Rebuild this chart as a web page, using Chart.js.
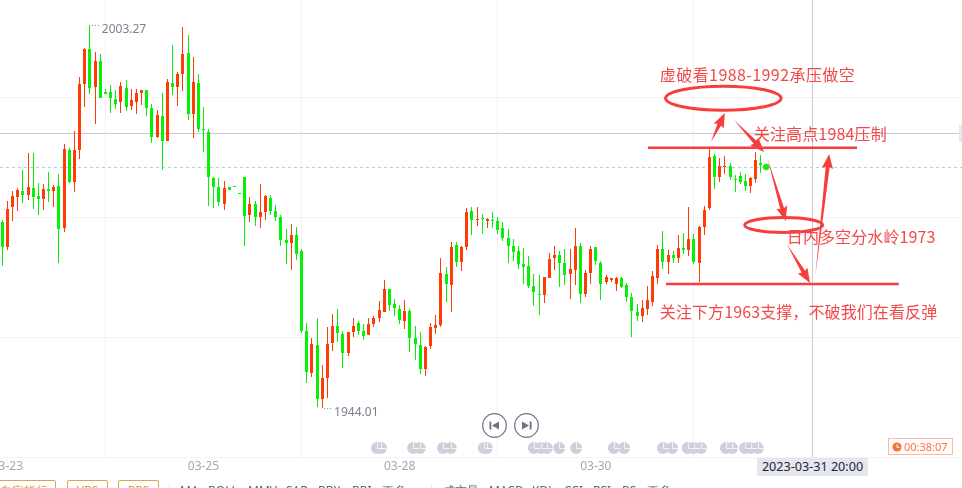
<!DOCTYPE html>
<html>
<head>
<meta charset="utf-8">
<title>XAUUSD</title>
<script src="https://cdn.jsdelivr.net/npm/chart.js@4"></script>
<style>
	html, body { margin: 0; padding: 0; background: #fff; overflow: hidden; }
	#wrap { position: relative; width: 962px; height: 488px; overflow: hidden; font-family: "Noto Sans", sans-serif; }
	#klineChart { position: absolute; left: 0; top: 0; }
	.abs { position: absolute; white-space: nowrap; }
	.btn { top: 480px; height: 20px; border: 1px solid #dca64e; border-radius: 2px; box-sizing: border-box; color: #d99a3a; font-size: 12px; line-height: 19px; text-align: center; }
	.sep { top: 485px; width: 1px; height: 10px; background: #e2e2ea; }
	.tool { top: 482px; font-size: 12px; line-height: 18px; color: #5f6372; }
	.round { top: 413px; width: 25px; height: 25px; }
	#dateTag { left: 757px; top: 458px; width: 111px; height: 18px; background: #e4e7f0; color: #23252c; font-size: 12.6px; line-height: 18px; text-align: center; }
	#timer { left: 888px; top: 438px; width: 65px; height: 17px; border: 1px solid #ffb9a0; box-sizing: border-box; color: #ff7040; font-size: 11px; line-height: 15px; padding-left: 15px; }
	#timer svg { position: absolute; left: 3px; top: 3px; }
	#sideTab { left: 959px; top: 125px; width: 3px; height: 17px; background: #e8e8ee; }
</style>
</head>
<body>
<div id="wrap">
	<canvas id="klineChart" width="962" height="488"></canvas>

	<svg class="abs round" style="left:481.5px" viewBox="0 0 25 25"><circle cx="12.5" cy="12.5" r="11.8" fill="#fff" stroke="#6d7182" stroke-width="1.2"/><rect x="7.5" y="8.5" width="1.8" height="8" fill="#6d7182"/><path d="M17 8.5v8l-7-4z" fill="#6d7182"/></svg>
	<svg class="abs round" style="left:513.5px" viewBox="0 0 25 25"><circle cx="12.5" cy="12.5" r="11.8" fill="#fff" stroke="#6d7182" stroke-width="1.2"/><rect x="15.7" y="8.5" width="1.8" height="8" fill="#6d7182"/><path d="M8 8.5v8l7-4z" fill="#6d7182"/></svg>

	<div id="dateTag" class="abs">2023-03-31 20:00</div>
	<div id="timer" class="abs"><svg width="10" height="10" viewBox="0 0 10 10"><circle cx="5" cy="5" r="4.6" fill="#ff7040"/><path d="M5 2.5V5.3H7.5" fill="none" stroke="#fff" stroke-width="1"/></svg>00:38:07</div>
	<div id="sideTab" class="abs"></div>

	<div class="abs btn" style="left:-8px;width:64px">自定指标</div>
	<div class="abs btn" style="left:67px;width:41px">VBS</div>
	<div class="abs btn" style="left:118px;width:41px">BPS</div>
	<div class="abs sep" style="left:169px"></div>
	<div class="abs tool" style="left:180px">MA</div>
	<div class="abs tool" style="left:208px">BOLL</div>
	<div class="abs tool" style="left:248px">MMV</div>
	<div class="abs tool" style="left:286px">SAR</div>
	<div class="abs tool" style="left:318px">BBX</div>
	<div class="abs tool" style="left:352px">BBI</div>
	<div class="abs tool" style="left:382px">更多</div>
	<div class="abs sep" style="left:431px"></div>
	<div class="abs tool" style="left:443px">成交量</div>
	<div class="abs tool" style="left:489px">MACD</div>
	<div class="abs tool" style="left:532px">KDJ</div>
	<div class="abs tool" style="left:564px">CCI</div>
	<div class="abs tool" style="left:593px">RSI</div>
	<div class="abs tool" style="left:622px">BS</div>
	<div class="abs tool" style="left:647px">更多</div>
</div>

<script>
// Candles, one per 4 hours
var openVals = [
	1972.79,1968.93,1975.11,1976.66,1977.59,1976.97,1978.05,1976.82,1976.35,1977.90,
	1977.59,1978.36,1971.87,1983.93,1978.98,1983.93,1994.14,1999.56,1993.68,1997.70,
	1992.91,1992.91,1991.82,1991.36,1993.53,1990.74,1991.36,1992.75,1993.22,1990.43,
	1985.94,1989.19,1985.33,1994.30,1993.68,1995.69,1998.94,1989.50,1994.30,1987.18,
	1986.72,1979.60,1978.21,1975.58,1978.21,1978.21,1977.13,1979.76,1973.88,1975.58,
	1973.57,1974.34,1976.51,1974.50,1973.57,1970.01,1969.54,1970.78,1968.31,1955.93,
	1949.43,1953.76,1945.41,1948.66,1954.07,1956.70,1955.47,1952.53,1955.78,1957.17,
	1955.93,1955.31,1957.01,1957.94,1958.87,1962.43,1960.11,1959.33,1957.48,1959.03,
	1954.85,1953.76,1950.05,1953.61,1956.39,1956.86,1964.75,1963.05,1969.24,1966.61,
	1968.93,1974.50,1973.10,1973.41,1972.95,1973.10,1972.95,1971.87,1970.32,1969.08,
	1968.31,1966.30,1965.99,1962.89,1961.66,1961.50,1964.13,1967.22,1967.69,1966.45,
	1964.75,1965.37,1969.08,1961.66,1964.90,1968.93,1966.45,1963.51,1963.82,1963.20,
	1964.13,1963.05,1961.19,1958.87,1958.25,1959.33,1960.42,1964.13,1968.62,1966.61,
	1967.69,1967.22,1968.77,1968.46,1970.16,1966.45,1972.02,1974.96,1983.01,1979.76,
	1981.30,1981.46,1979.45,1979.91,1979.14,1978.36,1979.45,1981.92,1981.61
];
var closeVals = [
	1968.93,1974.80,1976.82,1977.75,1976.97,1978.21,1976.66,1976.35,1977.90,1977.59,
	1978.21,1971.71,1984.09,1978.98,1983.93,1994.14,1999.56,1993.53,1997.70,1991.98,
	1992.60,1991.98,1991.05,1993.83,1990.59,1991.67,1992.75,1993.22,1990.43,1985.94,
	1989.35,1985.33,1994.45,1993.68,1995.69,1998.79,1989.50,1994.45,1987.18,1987.03,
	1979.76,1978.21,1975.89,1978.05,1977.75,1978.21,1977.13,1973.72,1975.58,1973.57,
	1974.34,1976.82,1974.50,1973.57,1970.01,1969.54,1970.78,1967.84,1955.93,1949.59,
	1953.92,1945.41,1948.66,1953.92,1956.70,1955.62,1952.53,1955.78,1956.70,1955.93,
	1955.16,1957.01,1957.94,1959.18,1962.43,1959.95,1959.49,1957.63,1959.03,1954.85,
	1953.92,1950.05,1953.45,1956.55,1956.86,1964.90,1963.20,1968.93,1966.61,1968.93,
	1974.34,1973.10,1973.26,1973.26,1973.26,1972.95,1971.56,1970.32,1969.08,1968.15,
	1966.30,1965.83,1962.89,1961.96,1961.50,1964.29,1967.07,1967.69,1966.45,1964.59,
	1965.52,1969.08,1961.66,1964.90,1968.62,1966.76,1963.20,1964.29,1964.13,1964.13,
	1962.74,1961.19,1959.03,1958.25,1959.49,1960.73,1964.44,1968.62,1966.61,1967.69,
	1967.22,1968.77,1968.46,1970.16,1966.61,1972.02,1974.65,1982.85,1979.76,1981.46,
	1981.46,1979.76,1979.29,1978.98,1978.36,1979.60,1982.39,1981.61,1981.30
];
var highVals = [
	1973.10,1976.04,1977.59,1978.05,1980.84,1983.47,1983.47,1978.83,1978.67,1980.53,
	1978.52,1980.22,1984.86,1984.24,1986.87,1995.23,1999.71,2003.27,1999.09,1998.79,
	1993.37,1993.99,1993.22,1994.45,1994.76,1993.37,1993.37,1993.22,1993.22,1991.05,
	1990.12,1992.75,1994.92,2000.18,1996.00,2002.96,2001.73,1998.32,1995.69,1990.59,
	1987.18,1979.76,1979.60,1979.14,1978.21,1978.21,1977.13,1979.76,1976.66,1976.04,
	1978.67,1976.97,1976.97,1975.42,1973.88,1971.71,1972.48,1972.02,1968.62,1957.17,
	1954.85,1957.94,1950.67,1956.55,1958.56,1959.33,1955.93,1955.78,1957.94,1957.48,
	1957.01,1957.94,1958.25,1960.57,1963.82,1962.43,1960.88,1959.95,1960.73,1959.33,
	1956.70,1955.78,1953.61,1957.17,1958.41,1967.22,1965.83,1969.70,1969.70,1969.08,
	1974.96,1975.11,1975.11,1974.03,1973.41,1974.34,1973.57,1972.79,1971.71,1970.16,
	1969.08,1968.77,1967.53,1964.75,1964.59,1964.29,1968.00,1969.08,1968.31,1968.62,
	1968.62,1971.87,1969.54,1965.37,1969.08,1968.93,1966.76,1964.59,1964.13,1964.29,
	1964.29,1963.36,1961.81,1960.11,1960.73,1962.89,1965.21,1969.24,1971.40,1968.46,
	1968.31,1970.78,1971.09,1975.11,1970.94,1972.17,1975.27,1984.09,1983.31,1982.70,
	1983.01,1981.92,1980.07,1980.53,1980.22,1979.76,1983.62,1983.16,1981.61
];
var lowVals = [
	1965.99,1968.46,1972.95,1974.50,1975.73,1976.20,1974.80,1973.88,1974.65,1975.89,
	1975.11,1966.45,1971.25,1978.83,1977.44,1982.54,1990.59,1992.60,1987.96,1991.98,
	1992.60,1989.66,1990.28,1989.66,1989.97,1990.12,1989.50,1990.90,1989.19,1985.02,
	1985.79,1980.84,1985.33,1992.44,1990.74,1993.06,1988.57,1985.79,1986.72,1983.62,
	1975.27,1974.96,1975.27,1974.65,1977.75,1978.21,1977.13,1969.08,1972.79,1972.17,
	1971.87,1973.10,1973.88,1972.95,1969.08,1966.30,1965.37,1966.91,1955.62,1947.89,
	1948.81,1944.17,1944.01,1945.57,1952.84,1954.23,1950.21,1952.06,1955.00,1955.31,
	1954.54,1955.31,1956.55,1957.32,1958.87,1959.03,1958.25,1957.01,1956.24,1952.68,
	1951.44,1949.28,1948.97,1953.15,1955.47,1956.55,1960.42,1958.87,1965.83,1965.21,
	1968.46,1970.78,1972.17,1970.94,1971.87,1971.87,1970.94,1969.85,1966.45,1966.76,
	1965.52,1963.20,1962.58,1959.80,1958.41,1960.26,1964.13,1965.37,1962.74,1963.05,
	1960.88,1963.05,1960.26,1961.19,1963.20,1966.14,1960.73,1963.20,1963.51,1962.12,
	1962.58,1960.42,1955.00,1957.48,1957.32,1958.41,1959.80,1963.20,1965.52,1964.75,
	1966.45,1966.45,1967.84,1967.53,1966.30,1963.51,1970.78,1974.65,1977.90,1978.98,
	1980.22,1979.29,1977.44,1978.67,1977.59,1977.28,1978.83,1980.38,1981.30
];

// Axes
var tickIdx = [1, 39, 77, 115];
var tickText = ['03-23', '03-25', '03-28', '03-30'];
var gridPrices = [1992.06, 1973.49, 1954.93, 1936.36];
var xRange = [-0.426, 185.94];
var yRange = [1936.36, 2007.14];

// Crosshair and last price
var crossIdx = 156.98;
var crossPrice = 1986.49;
var lastPrice = 1981.23;

// Event markers along the bottom
var eventIdx = [72.6, 73.4, 79.6, 80.9, 85.4, 86.9, 93.3, 93.9, 103.0, 104.4, 105.5, 107.9, 111.2, 118.5, 120.5, 128.0, 129.8, 132.8, 134.0, 135.4, 140.2, 141.4, 143.9, 145.0, 146.4];
var eventPrice = 1937.83;

// Drawn levels
var levelPrices = [1984.29, 1963.2];
var levelFrom = [125.1, 128.6];
var levelTo = [165.6, 173.7];

// Drawn ellipses (centre, half width in candles, half height in price)
var ringIdx = [139.7, 151.4];
var ringPrice = [1991.93, 1972.33];
var ringHalfIdx = [11.18, 7.56];
var ringHalfPrice = [1.86, 1.16];

// Drawn arrows
var arrowFromIdx = [137.3, 141.8, 148.3, 152.0, 157.5];
var arrowFromPrice = [1985.17, 1988.58, 1982.54, 1969.39, 1964.29];
var arrowToIdx = [140.0, 147.6, 151.8, 156.5, 160.2];
var arrowToPrice = [1989.66, 1983.63, 1972.95, 1963.36, 1983.32];

// Drawn notes
var noteText = ['虚破看1988-1992承压做空', '关注高点1984压制', '日内多空分水岭1973', '关注下方1963支撑，不破我们在看反弹'];
var noteIdx = [127.4, 145.6, 152.0, 127.4];
var notePrice = [1995.54, 1986.41, 1970.47, 1958.87];
var noteSpacing = ['0.42px', '0.15px', '0.1px', '0.1px'];

// High and low marks
var markText = ['2003.27', '1944.01'];
var markFromIdx = [17, 62];
var markIdx = [19.3, 64.3];
var markPrice = [2002.5, 1943.25];
var markDotPrice = [2003.27, 1944.01];

var UP_COLOR = '#ff3a04';
var DOWN_COLOR = '#04f004';
var DRAW_COLOR = '#f93c3c';

function candleColor(i) {
	return closeVals[i] > openVals[i] ? UP_COLOR : DOWN_COLOR;
}

var bodyData = [], wickData = [], barColors = [];
for (var i = 0; i < openVals.length; i++) {
	bodyData.push({x: i, y: [openVals[i], closeVals[i]]});
	wickData.push({x: i, y: [lowVals[i], highVals[i]]});
	barColors.push(candleColor(i));
}

function flatLine(price, from, to, color, width, order, dash) {
	return {
		type: 'line',
		data: [{x: from, y: price}, {x: to, y: price}],
		borderColor: color,
		borderWidth: width,
		borderDash: dash || [],
		pointRadius: 0,
		order: order
	};
}

var datasets = [
	// Body and wick sit on the same x, so grouped is off
	{type: 'bar', data: bodyData, backgroundColor: barColors, barThickness: 3, minBarLength: 1, inflateAmount: 0, grouped: false, order: 4},
	{type: 'bar', data: wickData, backgroundColor: barColors, barThickness: 1, inflateAmount: 0, grouped: false, order: 5},
	flatLine(crossPrice, xRange[0], xRange[1], '#c9c9d6', 1, 8),
	flatLine(lastPrice, xRange[0], xRange[1], '#a8dccb', 1, 7, [3, 3]),
	{
		type: 'line',
		data: [{x: crossIdx, y: yRange[0]}, {x: crossIdx, y: yRange[1]}],
		borderColor: '#c9c9d6',
		borderWidth: 1,
		pointRadius: 0,
		order: 8
	},
	{
		type: 'scatter',
		data: eventIdx.map(function (idx) { return {x: idx, y: eventPrice}; }),
		backgroundColor: '#d0d0dc',
		pointRadius: 6,
		pointBorderWidth: 0,
		order: 6
	},
	{
		// Last price dot
		type: 'scatter',
		data: [{x: openVals.length - 1, y: closeVals[closeVals.length - 1]}],
		backgroundColor: '#14e814',
		borderColor: 'rgba(20, 232, 20, 0.25)',
		pointRadius: 3,
		pointBorderWidth: 1.5,
		order: 3
	}
];
levelPrices.forEach(function (price, n) {
	datasets.push(flatLine(price, levelFrom[n], levelTo[n], DRAW_COLOR, 2.6, 1));
});

/**
 * Tapered arrow between two pixels: thin tail, wide neck and a barbed head
 */
function drawArrow(ctx, x1, y1, x2, y2) {
	var len = Math.sqrt((x2 - x1) * (x2 - x1) + (y2 - y1) * (y2 - y1));
	var ux = (x2 - x1) / len, uy = (y2 - y1) / len;
	var nx = -uy, ny = ux;
	var headLen = 13, neck = 2, barb = 5.6;
	var bx = x2 - ux * headLen, by = y2 - uy * headLen;
	ctx.beginPath();
	ctx.moveTo(x1, y1);
	ctx.lineTo(bx + nx * neck, by + ny * neck);
	ctx.lineTo(bx - ux * 1.5 + nx * barb, by - uy * 1.5 + ny * barb);
	ctx.lineTo(x2, y2);
	ctx.lineTo(bx - ux * 1.5 - nx * barb, by - uy * 1.5 - ny * barb);
	ctx.lineTo(bx - nx * neck, by - ny * neck);
	ctx.closePath();
	ctx.fill();
}

// Snap the bars to whole pixels so the candles stay crisp
var snapBars = {
	id: 'snapBars',
	beforeDatasetsDraw: function (chart) {
		[0, 1].forEach(function (n) {
			chart.getDatasetMeta(n).data.forEach(function (bar) {
				bar.x = Math.floor(bar.x) + 0.5;
				bar.y = Math.round(bar.y);
				bar.base = Math.round(bar.base);
				if (n === 0 && bar.y === bar.base) {
					bar.y -= 1;
				}
			});
		});
	}
};

// The hand drawn things on top of the chart, everything goes through the scales
var drawings = {
	id: 'drawings',
	afterDatasetsDraw: function (chart) {
		var ctx = chart.ctx, sx = chart.scales.x, sy = chart.scales.y;
		ctx.save();

		// Clock hands on the event markers
		ctx.strokeStyle = 'rgba(255, 255, 255, 0.75)';
		ctx.lineWidth = 1;
		chart.getDatasetMeta(5).data.forEach(function (pt) {
			var cx = Math.round(pt.x) + 0.5, cy = Math.round(pt.y) + 0.5;
			ctx.beginPath();
			ctx.moveTo(cx, cy - 6);
			ctx.lineTo(cx, cy);
			ctx.lineTo(cx + 6, cy);
			ctx.stroke();
		});

		// Ellipses
		ctx.strokeStyle = DRAW_COLOR;
		ctx.lineWidth = 3;
		ringIdx.forEach(function (idx, n) {
			var cx = sx.getPixelForValue(idx), cy = sy.getPixelForValue(ringPrice[n]);
			var rx = sx.getPixelForValue(idx + ringHalfIdx[n]) - cx;
			var ry = cy - sy.getPixelForValue(ringPrice[n] + ringHalfPrice[n]);
			ctx.beginPath();
			ctx.ellipse(cx, cy, rx, ry, 0, 0, Math.PI * 2);
			ctx.stroke();
		});

		// Arrows
		ctx.fillStyle = DRAW_COLOR;
		arrowFromIdx.forEach(function (idx, n) {
			drawArrow(ctx, sx.getPixelForValue(idx), sy.getPixelForValue(arrowFromPrice[n]), sx.getPixelForValue(arrowToIdx[n]), sy.getPixelForValue(arrowToPrice[n]));
		});

		// Notes
		ctx.fillStyle = '#f44848';
		ctx.font = '16px "Noto Sans CJK SC"';
		ctx.textAlign = 'left';
		ctx.textBaseline = 'middle';
		noteText.forEach(function (text, n) {
			ctx.letterSpacing = noteSpacing[n];
			ctx.fillText(text, sx.getPixelForValue(noteIdx[n]), sy.getPixelForValue(notePrice[n]));
		});
		ctx.letterSpacing = '0px';

		// High and low marks
		ctx.fillStyle = '#7b7f8f';
		ctx.font = '12px "Noto Sans"';
		markText.forEach(function (text, n) {
			var lx = sx.getPixelForValue(markIdx[n]);
			var dy = Math.round(sy.getPixelForValue(markDotPrice[n])) + 0.5;
			ctx.fillText(text, lx, sy.getPixelForValue(markPrice[n]));
			ctx.strokeStyle = '#7b7f8f';
			ctx.lineWidth = 1;
			ctx.setLineDash([1, 2]);
			ctx.beginPath();
			ctx.moveTo(sx.getPixelForValue(markFromIdx[n]) + 2, dy);
			ctx.lineTo(lx - 1, dy);
			ctx.stroke();
			ctx.setLineDash([]);
		});
		ctx.restore();
	}
};

var klineChart = new Chart(document.getElementById('klineChart'), {
	type: 'bar',
	data: {datasets: datasets},
	plugins: [snapBars, drawings],
	options: {
		responsive: false,
		animation: false,
		events: [],
		layout: {padding: 0, autoPadding: false},
		plugins: {legend: {display: false}, tooltip: {enabled: false}},
		scales: {
			x: {
				type: 'linear',
				min: xRange[0],
				max: xRange[1],
				offset: false,
				border: {display: false},
				grid: {color: '#f3f3f7', drawTicks: false},
				ticks: {
					autoSkip: false,
					maxRotation: 0,
					padding: 2,
					color: '#a4a7b6',
					font: {family: '"Noto Sans"', size: 12},
					callback: function (value) {
						return tickText[tickIdx.indexOf(value)];
					}
				},
				afterBuildTicks: function (scale) {
					scale.ticks = tickIdx.map(function (idx) { return {value: idx}; });
				},
				afterFit: function (scale) {
					// The plot ends at 457.5, labels may run off the left edge
					scale.height = 30.5;
					scale.paddingLeft = 0;
					scale.paddingRight = 0;
				}
			},
			y: {
				min: yRange[0],
				max: yRange[1],
				border: {display: false},
				grid: {color: '#f3f3f7', drawTicks: false},
				ticks: {display: false},
				afterBuildTicks: function (scale) {
					scale.ticks = gridPrices.map(function (price) { return {value: price}; });
				},
				afterFit: function (scale) {
					scale.width = 0;
				}
			}
		}
	}
});
</script>
</body>
</html>
